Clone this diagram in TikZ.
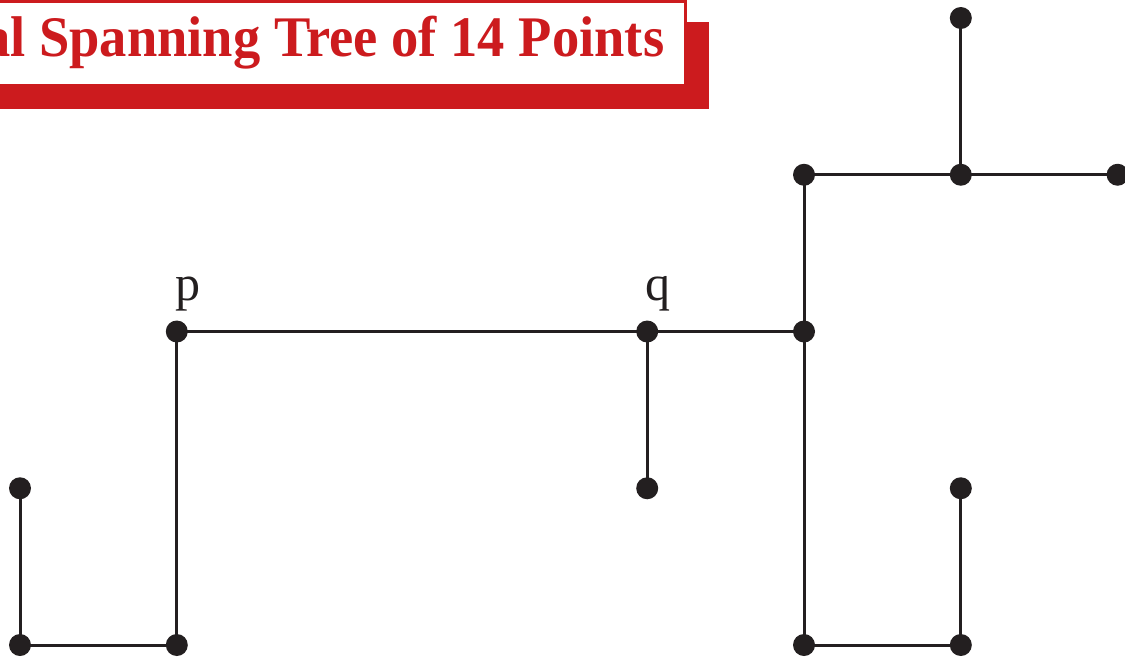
\documentclass[tikz,border=0pt]{standalone}
\usepackage{fontspec}
\setmainfont{Liberation Serif}
\definecolor{tred}{HTML}{CC1B1E}
\definecolor{ink}{HTML}{231F20}
\begin{document}
\begin{tikzpicture}[x=1pt,y=-1pt,
  dot/.style={circle,fill=ink,inner sep=0pt,minimum size=22pt},
  edge/.style={draw=ink,line width=3pt},
  lbl/.style={inner sep=0pt,anchor=base west,text=ink,font=\fontsize{50}{55}\selectfont}]
\useasboundingbox (0,0) rectangle (1125,657);
% title
\fill[tred] (-10,22) rectangle (709,109);
\filldraw[fill=white,draw=tred,line width=3pt] (-10,1.5) rectangle (685.5,85.5);
\node[inner sep=0pt,anchor=base east,text=tred,font=\fontsize{57.4}{60}\selectfont\bfseries] (title) at (664.5,56) {\scalebox{0.95}[1]{al Spanning Tree of 14 Points}};
% points
\node[dot] (A) at (960.8,18) {};
\node[dot] (B) at (804,174.75) {};
\node[dot] (C) at (960.8,174.75) {};
\node[dot] (D) at (1117.6,174.75) {};
\node[dot] (P) at (176.8,331.5) {};
\node[dot] (Q) at (647.2,331.5) {};
\node[dot] (E) at (804,331.5) {};
\node[dot] (F) at (20,488.25) {};
\node[dot] (G) at (647.2,488.25) {};
\node[dot] (H) at (960.8,488.25) {};
\node[dot] (I) at (20,645) {};
\node[dot] (J) at (176.8,645) {};
\node[dot] (K) at (804,645) {};
\node[dot] (L) at (960.8,645) {};
% edges
\begin{scope}[on background layer/.style={}]
\draw[edge] (A.center) -- (C.center);
\draw[edge] (B.center) -- (C.center);
\draw[edge] (C.center) -- (D.center);
\draw[edge] (B.center) -- (E.center);
\draw[edge] (P.center) -- (Q.center);
\draw[edge] (Q.center) -- (E.center);
\draw[edge] (Q.center) -- (G.center);
\draw[edge] (E.center) -- (K.center);
\draw[edge] (K.center) -- (L.center);
\draw[edge] (L.center) -- (H.center);
\draw[edge] (F.center) -- (I.center);
\draw[edge] (I.center) -- (J.center);
\draw[edge] (J.center) -- (P.center);
\end{scope}
% labels
\node[lbl] (lp) at (175.5,300) {p};
\node[lbl] (lq) at (645.5,300) {q};
\end{tikzpicture}
\end{document}
